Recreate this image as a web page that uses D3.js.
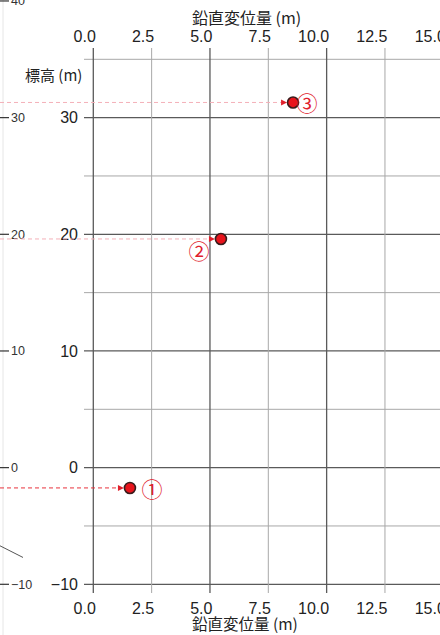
<!DOCTYPE html>
<html>
<head>
<meta charset="utf-8">
<script src="https://cdn.jsdelivr.net/npm/d3@7"></script>
<style>
  html, body { margin: 0; padding: 0; background: #fff; }
  svg { display: block; }
</style>
</head>
<body>
<svg id="chart" width="440" height="635"></svg>
<script>
// Horizontal axis: vertical displacement (m)
const xTicks = [0, 2.5, 5, 7.5, 10, 12.5, 15];
const xGrid = [0, 2.5, 5, 7.5, 10, 12.5, 15];
// Vertical axis: elevation (m)
const yTicks = [-10, 0, 10, 20, 30];
const yGrid = [-10, -5, 0, 5, 10, 15, 20, 25, 30, 35];
// Neighbouring elevation scale on the left edge
const leftTicks = [40, 30, 20, 10, 0, -10];

// Measurement points
const pointLabels = ["①", "②", "③"];
const displacement = [1.57, 5.47, 8.56];
const elevation = [-1.74, 19.6, 31.3];

// Fragment of a section line in the neighbouring panel (panel units, elevation)
const sectionX = [0, 1];
const sectionElev = [-6.7, -7.7];

const svg = d3.select("#chart");
const W = 440, H = 635;

const x = d3.scaleLinear().domain([0, 15]).range([93.3, 443.3]);
const y = d3.scaleLinear().domain([-10, 35]).range([584.3, 59.3]);
const leftX = d3.scaleLinear().domain([0, 1]).range([0, 23]);

const latin = "'Liberation Sans', Arial, Helvetica, sans-serif";
const jp = "'Noto Sans CJK JP', 'Noto Sans', sans-serif";

// faint border of the neighbouring panel
svg.append("line")
  .attr("x1", 3).attr("x2", 3).attr("y1", 0).attr("y2", H)
  .attr("stroke", "#e6e6e6").attr("stroke-width", 1);

// grid
const isMajorY = v => Math.abs(v % 10) < 1e-9;
const isMajorX = v => Math.abs(v % 5) < 1e-9;

svg.append("g").selectAll("line").data(yGrid).join("line")
  .attr("x1", 84).attr("x2", W)
  .attr("y1", d => y(d)).attr("y2", d => y(d))
  .attr("stroke", d => isMajorY(d) ? "#5a5a5a" : "#a8a8a8")
  .attr("stroke-width", d => isMajorY(d) ? 1.3 : 1);

svg.append("g").selectAll("line").data(xGrid).join("line")
  .attr("x1", d => x(d)).attr("x2", d => x(d))
  .attr("y1", 48).attr("y2", 593)
  .attr("stroke", d => isMajorX(d) ? "#5a5a5a" : "#a8a8a8")
  .attr("stroke-width", d => isMajorX(d) ? 1.3 : 1);

// x tick labels, top and bottom (set just left of each grid line)
const fmtX = d3.format(".1f");
const topAxis = d3.axisTop(x).tickValues(xTicks).tickFormat(fmtX).tickSize(0).tickPadding(0);
const gTop = svg.append("g").attr("transform", "translate(2,42)").call(topAxis);
const bottomAxis = d3.axisBottom(x).tickValues(xTicks).tickFormat(fmtX).tickSize(0).tickPadding(0);
const gBottom = svg.append("g").attr("transform", "translate(2,602)").call(bottomAxis);
[gTop, gBottom].forEach(g => {
  g.select(".domain").remove();
  g.selectAll("text")
    .attr("text-anchor", "end")
    .attr("font-family", latin).attr("font-size", 16).attr("fill", "#222");
});
gTop.selectAll("text").attr("dy", 0);
gBottom.selectAll("text").attr("dy", "0.75em");

// y tick labels
const leftAxis = d3.axisLeft(y).tickValues(yTicks).tickFormat(d3.format("d")).tickSize(0).tickPadding(0);
const gLeft = svg.append("g").attr("transform", "translate(78,0)").call(leftAxis);
gLeft.select(".domain").remove();
gLeft.selectAll("text")
  .attr("font-family", latin).attr("font-size", 16).attr("fill", "#222");

// axis titles
svg.append("text").attr("x", 192).attr("y", 24)
  .attr("font-family", jp).attr("font-size", 16).attr("fill", "#222")
  .text("鉛直変位量 (m)");
svg.append("text").attr("x", 192).attr("y", 630)
  .attr("font-family", jp).attr("font-size", 15.5).attr("fill", "#222")
  .text("鉛直変位量 (m)");
svg.append("text").attr("x", 25).attr("y", 81)
  .attr("font-family", jp).attr("font-size", 15).attr("fill", "#222")
  .text("標高 (m)");

// neighbouring scale on the left edge
const gEdge = svg.append("g");
gEdge.selectAll("line").data(leftTicks).join("line")
  .attr("x1", 0).attr("x2", 9)
  .attr("y1", d => y(d)).attr("y2", d => y(d))
  .attr("stroke", "#333").attr("stroke-width", 1.2);
gEdge.selectAll("text").data(leftTicks).join("text")
  .attr("x", 11).attr("y", d => y(d) + 4.5)
  .attr("font-family", latin).attr("font-size", 12.5).attr("fill", "#333")
  .text(d => d < 0 ? "\u2212" + Math.abs(d) : d);

// section line fragment
svg.append("path")
  .datum(sectionX.map((v, i) => [v, sectionElev[i]]))
  .attr("d", d3.line().x(d => leftX(d[0])).y(d => y(d[1])))
  .attr("stroke", "#555").attr("stroke-width", 1).attr("fill", "none");

// points with leader arrows
const pts = pointLabels.map((lab, i) => ({ lab, dx: displacement[i], el: elevation[i], i }));
const r = 5.5;
const leaderColor = ["#e8323c", "#f4b0b8", "#f4b0b8"];
const labelOffset = [[22, 0], [-22, 11], [14, 0]];

const gPts = svg.append("g");
pts.forEach(p => {
  const cx = x(p.dx), cy = y(p.el);
  const tip = cx - r - 0.5;
  gPts.append("line")
    .attr("x1", 0).attr("x2", tip - 5)
    .attr("y1", cy).attr("y2", cy)
    .attr("stroke", leaderColor[p.i]).attr("stroke-width", 1)
    .attr("stroke-dasharray", "4,3");
  gPts.append("path")
    .attr("d", `M${tip},${cy} L${tip - 6},${cy - 3} L${tip - 6},${cy + 3} Z`)
    .attr("fill", "#e0202c");
  gPts.append("circle")
    .attr("cx", cx).attr("cy", cy).attr("r", r)
    .attr("fill", "#e8141c").attr("stroke", "#3a1c1c").attr("stroke-width", 1.6);
  gPts.append("text")
    .attr("x", cx + labelOffset[p.i][0]).attr("y", cy + labelOffset[p.i][1])
    .attr("text-anchor", "middle").attr("dominant-baseline", "central")
    .attr("font-family", jp).attr("font-size", 21).attr("fill", "#e0202c")
    .text(p.lab);
});
</script>
</body>
</html>
